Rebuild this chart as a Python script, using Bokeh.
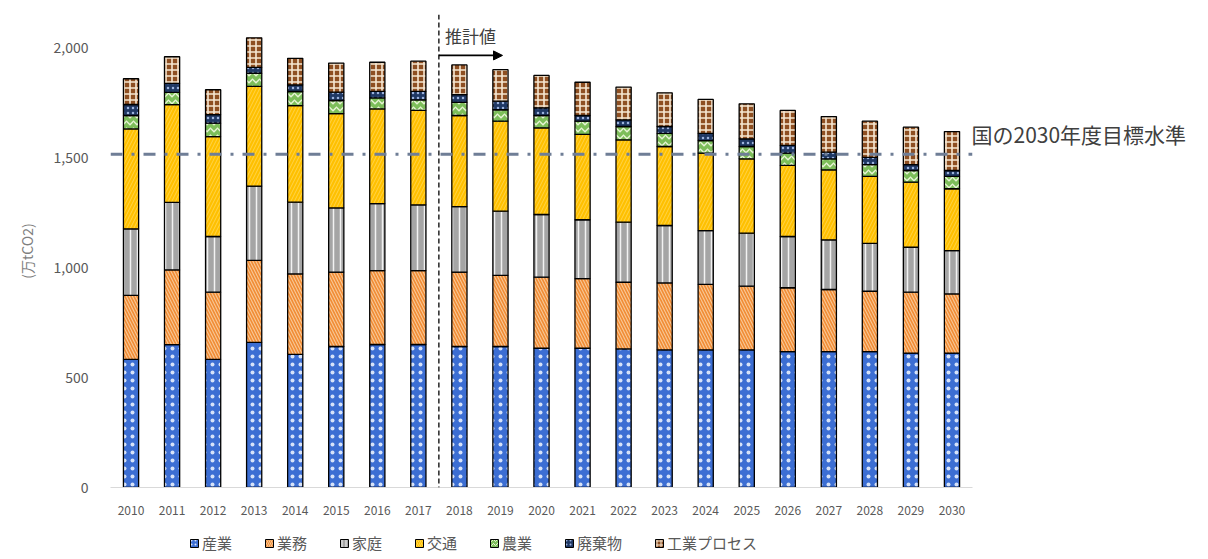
from bokeh.plotting import figure
from bokeh.layouts import column
from bokeh.models import (ColumnDataSource, FactorRange, Range1d, FixedTicker, NumeralTickFormatter,
                          Span, Label, Arrow, NormalHead, Legend, LegendItem, LinearAxis)
from bokeh.embed import file_html
from bokeh.resources import INLINE

years = [str(y) for y in range(2010, 2031)]
sectors = ["産業", "業務", "家庭", "交通", "農業", "廃棄物", "工業プロセス"]

industry  = [582, 649, 582, 660, 605, 641, 650, 650, 641, 641, 633, 633, 630, 626, 626, 626, 618, 618, 618, 611, 611]
business  = [291, 340, 306, 372, 366, 338, 336, 336, 338, 323, 323, 316, 303, 304, 297, 289, 290, 282, 274, 277, 269]
household = [303, 307, 253, 338, 326, 292, 304, 299, 298, 292, 285, 268, 273, 261, 245, 241, 233, 226, 218, 204, 197]
transport = [454, 444, 454, 453, 439, 428, 431, 429, 414, 409, 394, 388, 374, 359, 352, 338, 323, 318, 304, 296, 281]
agri      = [61, 56, 61, 60, 64, 60, 50, 48, 60, 52, 56, 60, 61, 60, 57, 56, 56, 50, 54, 53, 56]
waste     = [50, 41, 39, 27, 30, 38, 30, 39, 35, 39, 35, 26, 30, 31, 33, 35, 35, 30, 33, 27, 27]
process   = [117, 121, 113, 134, 121, 132, 132, 137, 135, 143, 147, 151, 149, 153, 154, 159, 159, 162, 164, 170, 177]

target_2030 = 1515
target_label = "国の2030年度目標水準"
estimate_label = "推計値"
y_ticks = [0, 500, 1000, 1500, 2000]

keys = ["s0", "s1", "s2", "s3", "s4", "s5", "s6"]
source = ColumnDataSource(dict(year=years, s0=industry, s1=business, s2=household, s3=transport,
                               s4=agri, s5=waste, s6=process))

fills = ["#3C6ED3", "#F08C35", "#A5A5A5", "#FFC000", "#7DBE5A", "#1F3864", "#8E4F22"]
hatches = ["dot", "left_diagonal_line", "vertical_line", "right_diagonal_line", "horizontal_wave", "dot", "cross"]
hatch_colors = ["#D6E2F8", "#F9C896", "#F2F2F2", "#FFD650", "#E9F5D6", "#9DB3DD", "#F6E7D2"]
hatch_scales = [8, 6, 7, 7, 7, 5, 6]
hatch_weights = [1.2, 1.1, 1.5, 0.9, 1.3, 1.0, 1.6]

FONT = "Noto Sans CJK JP"

p = figure(width=1200, height=522, x_range=FactorRange(*years, range_padding=0),
           y_range=Range1d(0, 2150), output_backend="svg", toolbar_location=None,
           min_border_left=110, min_border_right=228, min_border_top=14, min_border_bottom=35)
p.outline_line_color = None
p.xgrid.grid_line_color = None
p.ygrid.grid_line_color = None
p.background_fill_color = "white"

style = dict(fill_color=fills, line_color="black", line_width=1.3,
             hatch_pattern=hatches, hatch_color=hatch_colors,
             hatch_scale=hatch_scales, hatch_weight=hatch_weights)
renderers = p.vbar_stack(keys, x="year", width=0.37, source=source, **style)

p.yaxis.ticker = FixedTicker(ticks=y_ticks)
p.yaxis.formatter = NumeralTickFormatter(format="0,0")
p.yaxis.axis_line_color = None
p.yaxis.major_tick_line_color = None
p.yaxis.minor_tick_line_color = None
p.yaxis.major_label_text_font = FONT
p.yaxis.major_label_text_font_size = "14px"
p.yaxis.major_label_text_color = "#595959"
p.yaxis.major_label_standoff = 16
p.yaxis.axis_label = "(万tCO2)"
p.yaxis.axis_label_text_font = FONT
p.yaxis.axis_label_text_font_style = "normal"
p.yaxis.axis_label_text_font_size = "14px"
p.yaxis.axis_label_text_color = "#7F7F7F"
p.yaxis.axis_label_standoff = 14

p.xaxis.axis_line_color = "#D9D9D9"
p.xaxis.axis_line_width = 1
p.xaxis.major_tick_line_color = None
p.xaxis.minor_tick_line_color = None
p.xaxis.major_label_text_font = FONT
p.xaxis.major_label_text_font_size = "12px"
p.xaxis.major_label_text_color = "#595959"
p.xaxis.major_label_standoff = 12

# national 2030 target line and its label (as a right-side axis label)
p.add_layout(Span(location=target_2030, dimension="width", line_color="#6F7E96",
                  line_width=3, line_dash="12 9 3 9"))
label_pos = 1609
raxis = LinearAxis(ticker=FixedTicker(ticks=[label_pos]),
                   major_label_overrides={label_pos: target_label},
                   axis_line_color=None, major_tick_line_color=None, minor_tick_line_color=None,
                   major_label_text_font=FONT, major_label_text_font_size="21px",
                   major_label_text_color="#404040", major_label_standoff=-7)
p.add_layout(raxis, "right")

# projection divider and arrow
p.add_layout(Span(location=8, dimension="height", line_color="black", line_width=1.3,
                  line_dash="5 3"))
p.add_layout(Arrow(end=NormalHead(size=9, fill_color="black", line_color="black"),
                   x_start=8.0, y_start=1964, x_end=9.55, y_end=1964,
                   line_color="black", line_width=1.6))
p.add_layout(Label(x=8.15, y=2055, text=estimate_label, text_font=FONT, text_font_size="17px",
                   text_color="#404040", text_baseline="middle"))

# legend in its own strip below the chart (dummy point placed outside the visible range)
lf = figure(width=1200, height=37, x_range=(0, 1), y_range=(0, 1), output_backend="svg",
            toolbar_location=None, x_axis_type=None, y_axis_type=None, min_border=0)
lf.outline_line_color = None
lf.xgrid.grid_line_color = None
lf.ygrid.grid_line_color = None
dummy = ColumnDataSource(dict(x=[-5.0], top=[-5.0]))
leg_renderers = []
for i in range(len(sectors)):
    leg_renderers.append(lf.vbar(x="x", top="top", width=0.1, source=dummy,
                                 fill_color=fills[i], line_color="black", line_width=1.0,
                                 hatch_pattern=hatches[i], hatch_color=hatch_colors[i],
                                 hatch_scale=4, hatch_weight=1.0))
legend = Legend(items=[LegendItem(label=s, renderers=[r]) for s, r in zip(sectors, leg_renderers)],
                orientation="horizontal", location=(79, 6), glyph_width=10, glyph_height=10,
                label_text_font=FONT, label_text_font_size="15px", label_text_color="#595959",
                label_standoff=3, spacing=32, padding=2, margin=0,
                border_line_color=None, background_fill_alpha=0)
lf.add_layout(legend)

layout = column(p, lf, spacing=0)
open("out.html", "w").write(file_html(layout, INLINE))
